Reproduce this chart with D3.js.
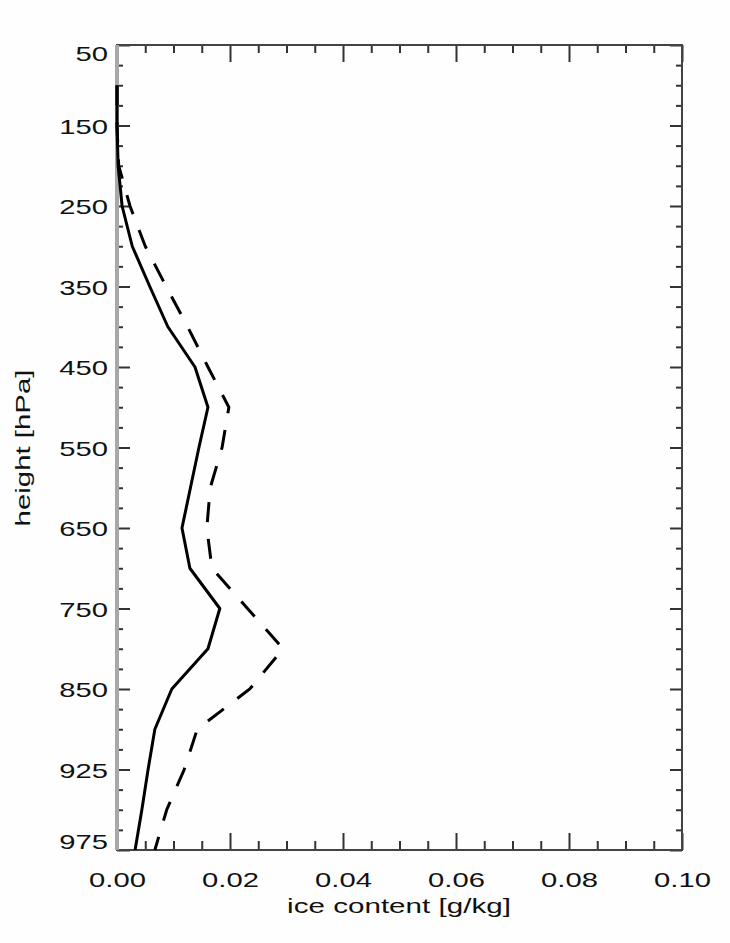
<!DOCTYPE html>
<html>
<head>
<meta charset="utf-8">
<script src="https://cdn.jsdelivr.net/npm/d3@7/dist/d3.min.js"></script>
<style>
  html, body { margin: 0; padding: 0; background: #fdfefd; }
  svg { display: block; }
  text { font-family: "Liberation Sans", Arial, sans-serif; fill: #111; }
</style>
</head>
<body>
<svg id="chart" width="730" height="943"></svg>
<script>
// ---- data ----
const yTickLabels = ["50","150","250","350","450","550","650","750","850","925","975"];
const xTickValues = [0, 0.02, 0.04, 0.06, 0.08, 0.10];
// model level positions (index along the level axis, 0 = 50 hPa label, 10 = 975 hPa label)
const levelIdx = [0.5, 1, 1.5, 2, 2.5, 3, 3.5, 4, 4.5, 5, 5.5, 6, 6.5, 7, 7.5, 8, 8.5, 9, 9.5, 10];
const solidIce = [0, 0, 0.0002, 0.0009, 0.0027, 0.0058, 0.0090, 0.0138, 0.0161, 0.0145, 0.0130, 0.0115,
                  0.0129, 0.0182, 0.0161, 0.0097, 0.0067, 0.0055, 0.0044, 0.0032];
const dashedIce = [0, 0, 0.0003, 0.0023, 0.0050, 0.0087, 0.0125, 0.0161, 0.0198, 0.0186, 0.0165, 0.0159,
                   0.0168, 0.0231, 0.0294, 0.0235, 0.0142, 0.0119, 0.0088, 0.0067];

// ---- layout ----
const svg = d3.select("#chart");
const L = 117, R = 682, T = 45, B = 850;
const FS = 21, SX = 1.39;

const x = d3.scaleLinear().domain([0, 0.10]).range([L, R]);
const y = d3.scaleLinear().domain([0, 10]).range([T, B]);

const majorY = d3.range(0, 11);
const minorY = d3.range(0, 40).map(i => i * 0.25).concat([10]).filter(v => !Number.isInteger(v));
const minorX = d3.range(0, 21).map(i => i * 0.005).filter(v => Math.abs(v / 0.02 - Math.round(v / 0.02)) > 1e-6);

function styleAxis(g) {
  g.select(".domain").remove();
  g.selectAll(".tick line").attr("stroke", "#333").attr("stroke-width", 2);
}

// minor ticks
svg.append("g").attr("transform", `translate(${L},0)`)
  .call(d3.axisLeft(y).tickValues(minorY).tickSize(-6).tickFormat("")).call(styleAxis);
svg.append("g").attr("transform", `translate(${R},0)`)
  .call(d3.axisRight(y).tickValues(minorY).tickSize(-6).tickFormat("")).call(styleAxis);
svg.append("g").attr("transform", `translate(0,${B})`)
  .call(d3.axisBottom(x).tickValues(minorX).tickSize(-9).tickFormat("")).call(styleAxis);
svg.append("g").attr("transform", `translate(0,${T})`)
  .call(d3.axisTop(x).tickValues(minorX).tickSize(-8).tickFormat("")).call(styleAxis);

// major ticks
const yLeft = svg.append("g").attr("transform", `translate(${L},0)`)
  .call(d3.axisLeft(y).tickValues(majorY).tickSize(-13).tickPadding(9).tickFormat(i => yTickLabels[i]))
  .call(styleAxis);
yLeft.selectAll(".tick text")
  .attr("x", -9 / SX)
  .attr("transform", `scale(${SX},1)`)
  .attr("dy", (d, i) => d === 0 ? "0.72em" : (d === 10 ? "-0.05em" : "0.36em"))
  .style("font-size", FS + "px").attr("fill", "#111");

svg.append("g").attr("transform", `translate(${R},0)`)
  .call(d3.axisRight(y).tickValues(majorY).tickSize(-12).tickFormat("")).call(styleAxis);

const xBottom = svg.append("g").attr("transform", `translate(0,${B})`)
  .call(d3.axisBottom(x).tickValues(xTickValues).tickSize(-17).tickPadding(22).tickFormat(d3.format(".2f")))
  .call(styleAxis);
xBottom.selectAll(".tick text")
  .attr("transform", `scale(${SX},1)`)
  .style("font-size", FS + "px").attr("fill", "#111");

svg.append("g").attr("transform", `translate(0,${T})`)
  .call(d3.axisTop(x).tickValues(xTickValues).tickSize(-17).tickFormat("")).call(styleAxis);

// frame
svg.append("rect").attr("x", L).attr("y", T).attr("width", R - L).attr("height", B - T)
  .attr("fill", "none").attr("stroke", "#444").attr("stroke-width", 2);
svg.append("line").attr("x1", L).attr("x2", L).attr("y1", T).attr("y2", B)
  .attr("stroke", "#a8a8a8").attr("stroke-width", 4);

// lines
const line = d3.line().x(d => x(d[1])).y(d => y(d[0]));
svg.append("path").datum(levelIdx.map((v, i) => [v, dashedIce[i]]))
  .attr("d", line).attr("fill", "none").attr("stroke", "#000")
  .attr("stroke-width", 3).attr("stroke-dasharray", "20,17");
svg.append("path").datum(levelIdx.map((v, i) => [v, solidIce[i]]))
  .attr("d", line).attr("fill", "none").attr("stroke", "#000")
  .attr("stroke-width", 3).attr("stroke-linejoin", "round");

// axis titles
svg.append("text").attr("transform", `translate(399,913) scale(1.41,1)`)
  .attr("text-anchor", "middle").style("font-size", FS + "px").text("ice content [g/kg]");
svg.append("text").attr("transform", `translate(30,448) rotate(-90) scale(1.40,1)`)
  .attr("text-anchor", "middle").style("font-size", FS + "px").text("height [hPa]");
</script>
</body>
</html>
